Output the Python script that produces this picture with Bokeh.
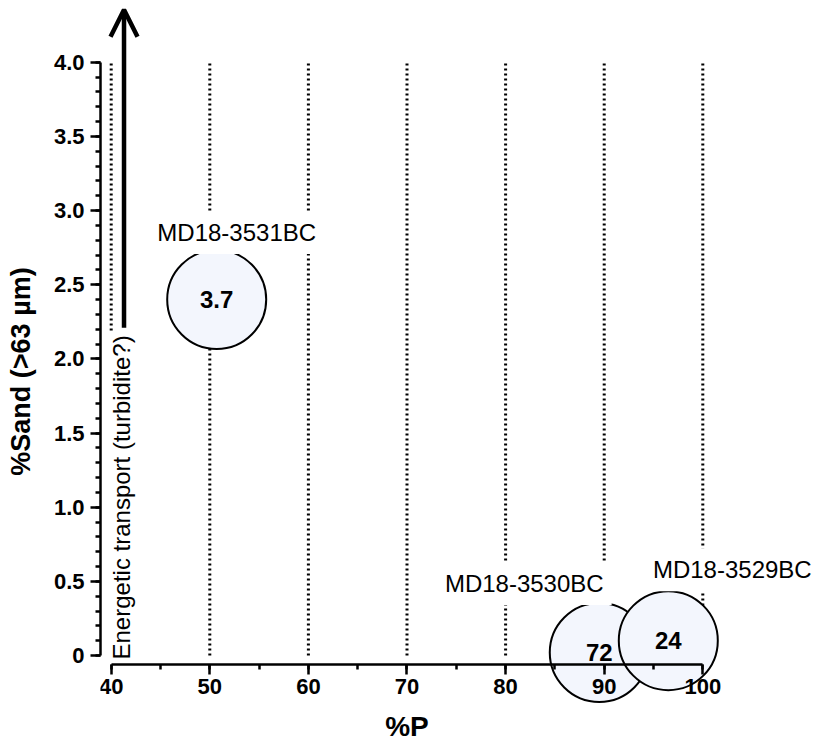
import numpy as np
from bokeh.plotting import figure
from bokeh.models import Range1d, LinearAxis, FixedTicker, ColumnDataSource, Arrow, OpenHead
from bokeh.core.properties import value
from bokeh.embed import file_html
from bokeh.resources import INLINE

# ---- data ----
cores = ["MD18-3531BC", "MD18-3530BC", "MD18-3529BC"]
pct_p = [50.7, 89.5, 96.5]
pct_sand = [2.40, 0.02, 0.10]
bubble_values = ["3.7", "72", "24"]

x_ticks = [40, 50, 60, 70, 80, 90, 100]
x_tick_labels = ["40", "50", "60", "70", "80", "90", "100"]
y_ticks = [0, 0.5, 1, 1.5, 2, 2.5, 3, 3.5, 4]
y_tick_labels = ["0", "0.5", "1.0", "1.5", "2.0", "2.5", "3.0", "3.5", "4.0"]

arrow_x = 41.3
arrow_y = [2.21, 4.355]
arrow_text = "Energetic transport (turbidite?)"

# ---- layout / style ----
FONT = value("Liberation Sans")
label_dx = [20, -75, 64]
label_dy = [-67, -69, -71]

p = figure(width=815, height=742, output_backend="svg", toolbar_location=None,
           x_range=Range1d(38.915, 111.43), y_range=Range1d(-0.5867, 4.4167),
           x_axis_location=None, y_axis_location=None,
           min_border_left=100, min_border_right=0, min_border_top=0, min_border_bottom=0)
p.outline_line_color = None
for g in p.grid:
    g.visible = False


def style_axis(ax, label_size):
    ax.axis_line_width = 2.5
    ax.major_tick_line_width = 2.5
    ax.minor_tick_line_width = 2.5
    ax.major_tick_in = 0
    ax.minor_tick_in = 0
    ax.major_tick_out = 10
    ax.minor_tick_out = 5
    ax.major_label_text_font = "Liberation Sans"
    ax.major_label_text_font_style = "bold"
    ax.major_label_text_font_size = "22px"
    ax.major_label_text_color = "black"
    ax.axis_label_text_font = "Liberation Sans"
    ax.axis_label_text_font_style = "bold"
    ax.axis_label_text_font_size = label_size
    ax.axis_label_text_color = "black"


yax = LinearAxis(ticker=FixedTicker(ticks=y_ticks,
                                    minor_ticks=[round(v, 1) for v in np.arange(0, 4.01, 0.1)]),
                 bounds=(y_ticks[0], y_ticks[-1]))
style_axis(yax, "27px")
yax.major_label_overrides = dict(zip(y_ticks, y_tick_labels))
yax.major_label_standoff = 6
yax.axis_label = "%Sand (>63 µm)"
yax.axis_label_standoff = 15
p.add_layout(yax, "left")

xax = LinearAxis(fixed_location=-0.0587,
                 ticker=FixedTicker(ticks=x_ticks, minor_ticks=list(range(40, 101, 5))),
                 bounds=(x_ticks[0], x_ticks[-1]))
style_axis(xax, "28px")
xax.major_label_overrides = dict(zip(x_ticks, x_tick_labels))
xax.major_label_standoff = 5
xax.axis_label = "%P"
xax.axis_label_standoff = 13
p.add_layout(xax, "below")

# dotted vertical guide lines
p.segment(x0=x_ticks, y0=[y_ticks[0]] * len(x_ticks), x1=x_ticks, y1=[y_ticks[-1]] * len(x_ticks),
          line_color="black", line_width=3, line_dash="2 3")

src = ColumnDataSource(dict(x=pct_p, y=pct_sand, core=cores, val=bubble_values,
                            dx=label_dx, dy=label_dy))

p.scatter(x="x", y="y", source=src, size=99, fill_color="#F3F6FD", line_color="black", line_width=2)

p.text(x="x", y="y", text="val", source=src, text_align="center", text_baseline="middle",
       text_font=FONT, text_font_style="bold", text_font_size="24px", text_color="black")

p.text(x="x", y="y", text="core", source=src, x_offset="dx", y_offset="dy",
       text_align="center", text_baseline="alphabetic",
       text_font=FONT, text_font_size="24px", text_color="black",
       background_fill_color="white", padding=8)

p.text(x=[arrow_x], y=[y_ticks[0]], text=[arrow_text], angle=np.pi / 2,
       x_offset=-3, y_offset=7, text_align="left", text_baseline="alphabetic",
       text_font=FONT, text_font_size="24px", text_color="black",
       background_fill_color="white", padding=3)

p.add_layout(Arrow(end=OpenHead(size=27, line_width=4.5, line_color="black"),
                   x_start=arrow_x, y_start=arrow_y[0], x_end=arrow_x, y_end=arrow_y[1],
                   line_width=4.5, line_color="black"))

open("out.html", "w").write(file_html(p, INLINE))
